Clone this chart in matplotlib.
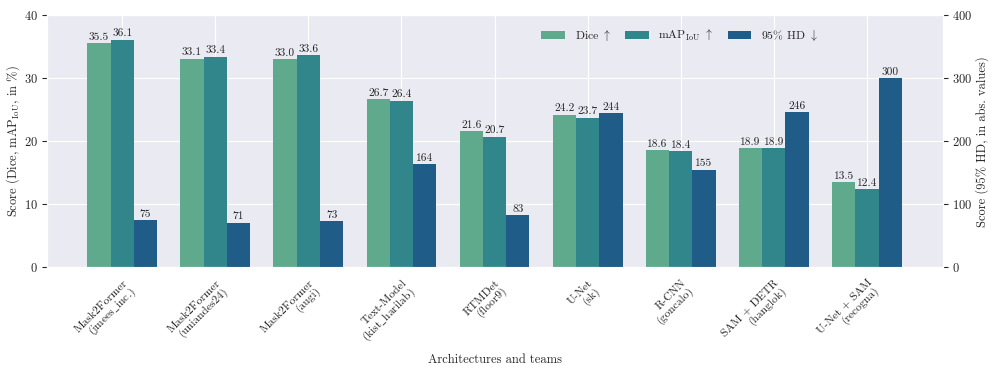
import numpy as np
import matplotlib
matplotlib.use("Agg")
import matplotlib.pyplot as plt
import seaborn as sns

teams = ["Mask2Former\n(jmees$\\_$inc.)", "Mask2Former\n(uniandes24)", "Mask2Former\n(augi)",
         "Text-Model\n(kist$\\_$harilab)", "RTMDet\n(floor9)", "U-Net\n(sk)", "R-CNN\n(goncalo)",
         "SAM + DETR\n(hanglok)", "U-Net + SAM\n(recogna)"]
dice = [35.5, 33.1, 33.0, 26.7, 21.6, 24.2, 18.6, 18.9, 13.5]
map_iou = [36.1, 33.4, 33.6, 26.4, 20.7, 23.7, 18.4, 18.9, 12.4]
hd95 = [75, 71, 73, 164, 83, 244, 155, 246, 300]

sns.set_style("darkgrid")
plt.rcParams['font.family'] = ['cmr10', 'DejaVu Serif']
plt.rcParams['mathtext.fontset'] = 'cm'
plt.rcParams['axes.formatter.use_mathtext'] = True

c_dice = '#5fa98c'
c_map = '#31868c'
c_hd = '#1f5c87'

x = np.arange(len(teams))
w = 0.25

fig, ax = plt.subplots(figsize=(9.96, 3.74), dpi=100)
ax2 = ax.twinx()

b1 = ax.bar(x - w, dice, w, color=c_dice, linewidth=0, label=r'Dice $\uparrow$')
b2 = ax.bar(x, map_iou, w, color=c_map, linewidth=0, label=r'mAP$_{\rm IoU}$ $\uparrow$')
b3 = ax2.bar(x + w, hd95, w, color=c_hd, linewidth=0, label=r'95% HD $\downarrow$')

ax.bar_label(b1, fmt='%.1f', fontsize=8.2, padding=1)
ax.bar_label(b2, fmt='%.1f', fontsize=8.2, padding=1)
ax2.bar_label(b3, fmt='%d', fontsize=8.2, padding=1)

ax.set_ylim(0, 40)
ax2.set_ylim(0, 400)
ax.set_yticks([0, 10, 20, 30, 40])
ax2.set_yticks([0, 100, 200, 300, 400])
ax2.grid(False)
ax.set_xlim(-0.81, 8.82)
ax.set_xticks(x)
ax.set_xticklabels(teams, rotation=45, ha='right', va='top',
                   rotation_mode='anchor', fontsize=8.3, linespacing=1.05)
ax.tick_params(axis='y', labelsize=9, pad=3)
ax.tick_params(axis='x', pad=4)
ax2.tick_params(axis='y', labelsize=9, pad=3)

ax.set_ylabel(r'Score (Dice, mAP$_{\rm IoU}$, in %)', fontsize=9, labelpad=1)
ax2.set_ylabel('Score (95% HD, in abs. values)', fontsize=9, labelpad=2)
ax.set_xlabel('Architectures and teams', fontsize=9, labelpad=5)

handles = [b1, b2, b3]
ax.legend(handles, [h.get_label() for h in handles], loc='upper left',
          bbox_to_anchor=(0.54, 0.99), ncol=3, frameon=False, fontsize=8.5,
          handlelength=2.0, columnspacing=1.2)

fig.subplots_adjust(left=0.047, right=0.947, top=0.96, bottom=0.285)
fig.savefig('out.png', dpi=100)
